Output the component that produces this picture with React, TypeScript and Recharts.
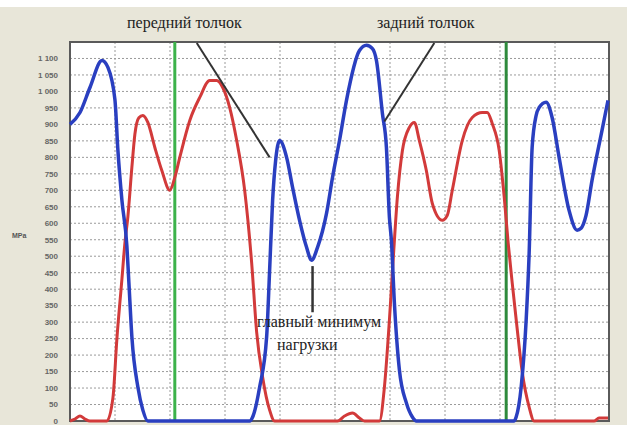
import { LineChart, Line, XAxis, YAxis, CartesianGrid, ReferenceLine, ReferenceArea } from 'recharts';

// time axis in arbitrary units (grid every 11), pressure in MPa
const blueTime = [0, 2, 4, 6.4, 7.6, 9, 9.6, 10.4, 11.4, 11.8, 12.4, 13.6, 14.6, 15.6, 36, 36.6, 38, 39.4, 40, 40.6, 41.2, 42, 43.4, 44.6, 46, 47.4, 48.4, 49.6, 51.4, 52.6, 54, 55.4, 58, 59.4, 60.6, 61.4, 62.6, 63.4, 64, 64.4, 65, 66, 67.4, 68.6, 69.4, 89, 89.4, 90.4, 91.4, 92, 92.6, 93.4, 94, 95.4, 96.6, 98, 100, 101.6, 102.4, 103.4, 104.6, 106.6, 107.8];
const bluePressure = [900, 936, 1012, 1094, 1073, 975, 821, 670, 530, 420, 255, 103, 33, 0, 0, 12, 103, 255, 458, 670, 790, 851, 800, 709, 609, 527, 488, 527, 630, 739, 851, 973, 1124, 1140, 1130, 1094, 933, 830, 618, 548, 358, 155, 55, 12, 0, 0, 12, 103, 306, 509, 830, 927, 951, 967, 921, 800, 639, 579, 585, 624, 730, 882, 973];

const redTime = [0, 1, 2, 3, 4, 7.4, 8.6, 9.4, 10.4, 11, 11.6, 12.4, 13, 13.8, 14.6, 15.6, 17, 18.4, 20, 21, 22, 24, 26, 28, 29.4, 30.6, 32, 33.4, 35, 36.4, 37.4, 38.6, 40, 41, 53.6, 55, 56.6, 58, 59, 62, 63, 64, 64.8, 65.6, 66.6, 68, 69, 70, 71.4, 72.6, 74.6, 75.6, 76.6, 78.6, 80.6, 82.6, 83.6, 84.6, 86, 87, 87.8, 88.6, 89.6, 90.6, 92, 93, 105, 106, 107.8];
const redPressure = [0, 6, 15, 6, 0, 0, 70, 250, 430, 540, 620, 770, 870, 920, 927, 906, 830, 760, 700, 739, 800, 912, 982, 1033, 1033, 1012, 951, 851, 700, 480, 270, 133, 33, 0, 0, 15, 24, 9, 0, 0, 103, 306, 500, 680, 820, 891, 906, 851, 760, 660, 609, 624, 700, 851, 921, 936, 936, 903, 821, 680, 540, 420, 280, 150, 42, 0, 0, 9, 9];

const gridTimes = [9, 20, 31, 42, 53, 64, 75, 86, 97];
const yTicks = [0, 50, 100, 150, 200, 250, 300, 350, 400, 450, 500, 550, 600, 650, 700, 750, 800, 850, 900, 950, 1000, 1050, 1100];
const markers = [21, 87.4];

const blueData = blueTime.map((t, i) => ({ t, p: bluePressure[i] }));
const redData = redTime.map((t, i) => ({ t, p: redPressure[i] }));

const fmt = (v: number) => (v >= 1000 ? `1 ${String(v - 1000).padStart(3, '0')}` : String(v));

const serif = { fontFamily: '"Liberation Serif", "DejaVu Serif", serif', fontSize: 16, color: '#222', position: 'absolute' as const, whiteSpace: 'nowrap' as const };

export default function App() {
  return (
    <div style={{ position: 'fixed', left: 0, top: 0, width: 627, height: 425, background: '#e8e6d9', overflow: 'hidden' }}>
      <div style={{ position: 'absolute', left: 0, top: 0, width: 627, height: 7, background: '#fff' }} />
      <LineChart width={627} height={425} margin={{ top: 42, right: 18, bottom: 0, left: 0 }}>
        <CartesianGrid fill="#fff" stroke="#9a9a9a" strokeDasharray="2 2" verticalPoints={gridTimes.map((t) => 70 + t * 5)} />
        <XAxis type="number" dataKey="t" domain={[0, 108]} ticks={gridTimes} tick={false} tickLine={false} axisLine={false} height={4} allowDuplicatedCategory={false} />
        <YAxis
          type="number"
          domain={[0, 1150]}
          ticks={yTicks}
          width={70}
          tickFormatter={fmt}
          tickLine={false}
          axisLine={false}
          tickMargin={6}
          tick={{ fontSize: 8, fontWeight: 'bold', fill: '#666', fontFamily: 'Arial, sans-serif' }}
          interval={0}
        />
        <ReferenceArea x1={0} x2={108} y1={0} y2={1150} fill="none" stroke="#5a5a5a" strokeWidth={2} />
        {markers.map((m, i) => (
          <ReferenceLine key={m} x={m} stroke={i === 0 ? '#3cb24a' : '#2e8a3c'} strokeWidth={3} />
        ))}
        <Line data={redData} dataKey="p" type="monotone" stroke="#d23a3a" strokeWidth={3} dot={false} isAnimationActive={false} />
        <Line data={blueData} dataKey="p" type="monotone" stroke="#2a3fc0" strokeWidth={3.5} dot={false} isAnimationActive={false} />
        <ReferenceLine segment={[{ x: 25.4, y: 1147 }, { x: 40, y: 800 }]} stroke="#333" strokeWidth={2} />
        <ReferenceLine segment={[{ x: 73, y: 1147 }, { x: 63, y: 909 }]} stroke="#333" strokeWidth={2} />
        <ReferenceLine segment={[{ x: 48.6, y: 470 }, { x: 48.6, y: 330 }]} stroke="#333" strokeWidth={2.5} />
      </LineChart>
      <div style={{ ...serif, left: 127, top: 14 }}>передний толчок</div>
      <div style={{ ...serif, left: 377, top: 14 }}>задний толчок</div>
      <div style={{ ...serif, left: 257, top: 313 }}>главный минимум</div>
      <div style={{ ...serif, left: 277, top: 336 }}>нагрузки</div>
      <div style={{ position: 'absolute', left: 12, top: 232, fontSize: 7, fontWeight: 'bold', color: '#555', fontFamily: 'Arial, sans-serif' }}>MPa</div>
    </div>
  );
}
